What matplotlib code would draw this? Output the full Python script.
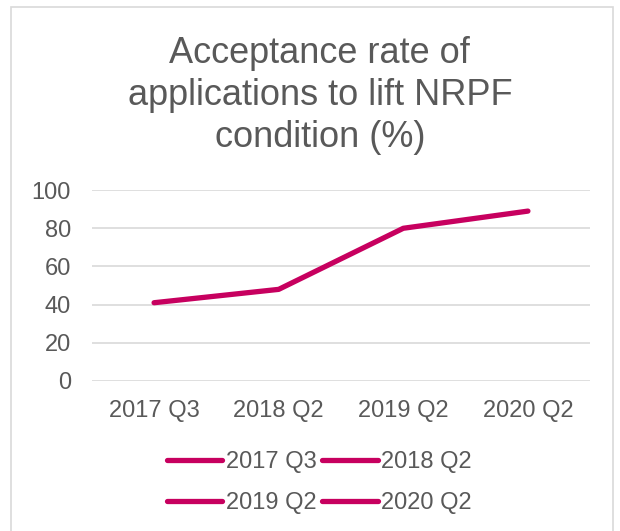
import matplotlib.pyplot as plt
from matplotlib.patches import Rectangle

# Dados do gráfico
categorias = ["2017 Q3", "2018 Q2", "2019 Q2", "2020 Q2"]
taxa_aceitacao = [41, 48, 80, 89]
titulo = "Acceptance rate of\napplications to lift NRPF\ncondition (%)"

cor_linha = "#C7005F"
cor_texto = "#595959"
cor_grade = "#D9D9D9"

plt.rcParams['font.family'] = ['Liberation Sans', 'DejaVu Sans']

fig = plt.figure(figsize=(6.2, 5.31), dpi=100)
ax = fig.add_axes([0.148, 0.2825, 0.804, 0.3595])

x = list(range(len(categorias)))
ax.plot(x, taxa_aceitacao, color=cor_linha, linewidth=3.8, solid_capstyle='round')

ax.set_xlim(-0.5, len(categorias) - 0.5)
ax.set_ylim(0, 100)
ax.set_yticks(range(0, 101, 20))
ax.set_xticks(x)
ax.set_xticklabels(categorias)
ax.tick_params(length=0, labelsize=17, labelcolor=cor_texto)
ax.tick_params(axis='y', pad=15)
ax.tick_params(axis='x', pad=14)
ax.grid(axis='y', color=cor_grade, linewidth=1.2)
ax.set_axisbelow(True)
for s in ax.spines.values():
    s.set_visible(False)

fig.text(0.516, 0.82, titulo, ha='center', va='center', fontsize=26,
         color=cor_texto, linespacing=1.27)

# Legenda: uma entrada por categoria, todas com a mesma linha
# (matplotlib preenche por coluna, então reordena para ficar por linha)
ordem = [0, 2, 1, 3]
handles = [plt.Line2D([], [], color=cor_linha, linewidth=3.8, solid_capstyle='round')
           for _ in ordem]
fig.legend(handles, [categorias[i] for i in ordem], loc='center',
           bbox_to_anchor=(0.515, 0.091), ncol=2, frameon=False, fontsize=17,
           labelcolor=cor_texto, handlelength=2.35, handletextpad=0.15,
           columnspacing=0.25, labelspacing=0.8)

# Moldura em volta do gráfico
fig.patches.append(Rectangle((11 / 620, -0.02), 602 / 620, 1 - 7 / 531 + 0.02,
                             transform=fig.transFigure, fill=False,
                             edgecolor=cor_grade, linewidth=1.2))

fig.savefig("out.png", dpi=100)
